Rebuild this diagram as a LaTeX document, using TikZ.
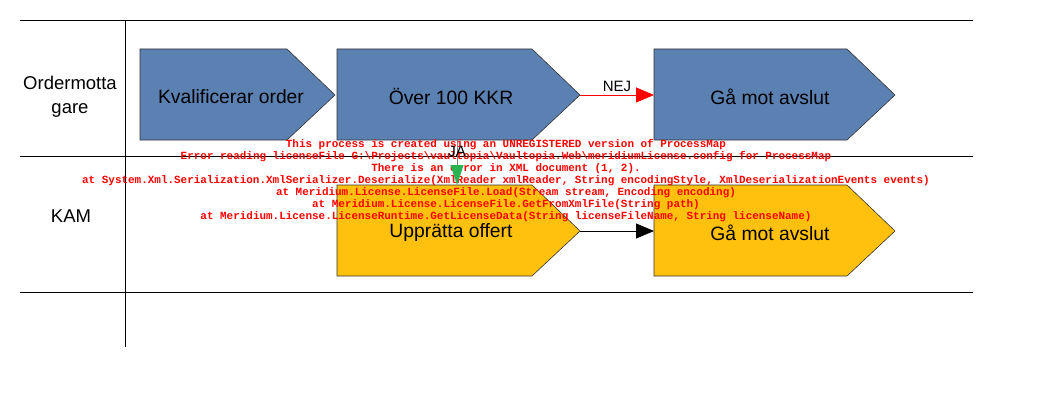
\documentclass[tikz,border=0pt]{standalone}
\usepackage{fontspec}
\setmainfont{Liberation Sans}
\newfontfamily\errfont{Liberation Mono}
\usetikzlibrary{arrows.meta}
\definecolor{procblue}{RGB}{91,128,178}
\definecolor{procyellow}{RGB}{255,193,14}
\definecolor{errred}{RGB}{255,0,0}
\definecolor{jagreen}{RGB}{40,178,80}
\tikzset{
  lane/.style={line width=0.8pt, black},
  chev/.style={draw=black!80, line width=0.6pt},
  bluechev/.style={chev, fill=procblue},
  yellowchev/.style={chev, fill=procyellow},
  ptext/.style={font=\fontsize{19.3}{21}\selectfont, inner sep=0pt},
  lanetext/.style={font=\fontsize{18.5}{24}\selectfont, align=center, inner sep=0pt},
  errtext/.style={font=\errfont\bfseries\fontsize{10.95}{12}\selectfont, text=errred, align=center, inner sep=0pt},
  flow/.style={line width=0.8pt}
}
\begin{document}
\begin{tikzpicture}[x=1pt,y=-1pt]
\useasboundingbox (0,0) rectangle (1046,417);
% lanes
\draw[lane] (20,20) -- (973,20);
\draw[lane] (20,156) -- (973,156);
\draw[lane] (20,292) -- (973,292);
\draw[lane] (125,20) -- (125,347);
\node[lanetext] (l1) at (70,97) {Ordermotta\\gare};
\node[lanetext] (l2) at (71,216) {KAM};
% blue chevrons
\draw[bluechev] (140,49) -- (287,49) -- (335,95) -- (287,140) -- (140,140) -- cycle;
\node[ptext] (b1) at (231,97) {Kvalificerar order};
\draw[bluechev] (337,49) -- (532,49) -- (580,95) -- (532,140) -- (337,140) -- cycle;
\node[ptext] (b2) at (451,97) {Över 100 KKR};
\coordinate (b2e) at (580,95);
\coordinate (b2s) at (457,140);
\draw[bluechev] (654,49) -- (847,49) -- (895,95) -- (847,140) -- (654,140) -- cycle;
\node[ptext] (b3) at (770,97) {Gå mot avslut};
\coordinate (b3w) at (654,95);
% yellow chevrons
\draw[yellowchev] (337,185) -- (532,185) -- (580,231) -- (532,276) -- (337,276) -- cycle;
\node[ptext] (y1) at (451,233) {Upprätta offert};
\coordinate (y1e) at (580,231);
\coordinate (y1n) at (457,185);
\draw[yellowchev] (654,185) -- (847,185) -- (895,231) -- (847,276) -- (654,276) -- cycle;
\node[ptext] (y2) at (770,233) {Gå mot avslut};
\coordinate (y2w) at (654,231);
% error text
\node[errtext, anchor=north] (err) at (506,139) {This process is created using an UNREGISTERED version of ProcessMap\\
Error reading licenseFile G:\textbackslash Projects\textbackslash vaultopia\textbackslash Vaultopia.Web\textbackslash meridiumLicense.config for ProcessMap\\
There is an error in XML document (1, 2).\\
at System.Xml.Serialization.XmlSerializer.Deserialize(XmlReader xmlReader, String encodingStyle, XmlDeserializationEvents events)\\
at Meridium.License.LicenseFile.Load(Stream stream, Encoding encoding)\\
at Meridium.License.LicenseFile.GetFromXmlFile(String path)\\
at Meridium.License.LicenseRuntime.GetLicenseData(String licenseFileName, String licenseName)};
% connectors
\draw[flow, red, -{Triangle[length=18pt,width=15pt]}] (b2e) -- node[above=3pt, font=\fontsize{15}{16}\selectfont, text=black, inner sep=0pt] (nej) {NEJ} (b3w);
\draw[flow, black, -{Triangle[length=18pt,width=15pt]}] (y1e) -- (y2w);
\draw[flow, black!50, -{Triangle[length=20pt,width=13pt,fill=jagreen,color=jagreen]}] (b2s) -- (y1n);
\node[font=\fontsize{15}{16}\selectfont, inner sep=0pt] (ja) at (457,151) {JA};
\end{tikzpicture}
\end{document}
